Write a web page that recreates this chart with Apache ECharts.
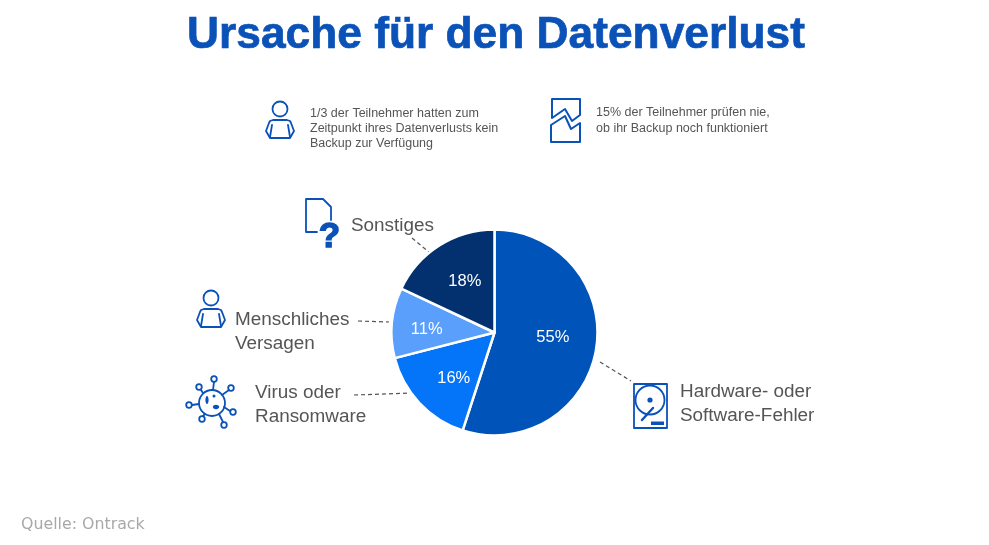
<!DOCTYPE html>
<html>
<head>
    <meta charset="utf-8">
    <title>Ursache für den Datenverlust</title>
    <script src="https://cdn.jsdelivr.net/npm/echarts@6/dist/echarts.min.js"></script>
    <style>
        html, body { margin: 0; padding: 0; background: #fff; }
        #chart { width: 989px; height: 545px; }
    </style>
</head>
<body>
<div id="chart"></div>
<script>
    // data
    var categories = ['Hardware- oder\nSoftware-Fehler', 'Virus oder\nRansomware', 'Menschliches\nVersagen', 'Sonstiges'];
    var values = [55, 16, 11, 18];
    var sliceColors = ['#0053b8', '#0474f8', '#5a9ffc', '#03306f'];
    var titleText = 'Ursache für den Datenverlust';
    var noteLeft = '1/3 der Teilnehmer hatten zum\nZeitpunkt ihres Datenverlusts kein\nBackup zur Verfügung';
    var noteRight = '15% der Teilnehmer prüfen nie,\nob ihr Backup noch funktioniert';
    var sourceText = 'Quelle: Ontrack';

    var FONT = '"Liberation Sans", Arial, sans-serif';
    var BLUE = '#0a52b8';
    var GREY = '#555555';

    var pieData = categories.map(function (name, i) {
        return { name: name, value: values[i], itemStyle: { color: sliceColors[i] } };
    });

    // helpers for the decoration
    function text(x, y, str, size, extra) {
        var style = { x: x, y: y, text: str, fill: GREY, font: size + 'px ' + FONT, verticalAlign: 'middle', lineHeight: size * 1.26 };
        for (var k in extra) style[k] = extra[k];
        return { type: 'text', style: style };
    }
    function dash(x1, y1, x2, y2) {
        return {
            type: 'line',
            shape: { x1: x1, y1: y1, x2: x2, y2: y2 },
            style: { stroke: '#555555', lineWidth: 1.2, lineDash: [4, 3] }
        };
    }
    function stroke(width) {
        return { fill: 'none', stroke: BLUE, lineWidth: width || 1.8, lineJoin: 'round', lineCap: 'round' };
    }
    function poly(points, closed, width) {
        return { type: closed ? 'polygon' : 'polyline', shape: { points: points }, style: stroke(width) };
    }
    function ring(cx, cy, r, width) {
        return { type: 'circle', shape: { cx: cx, cy: cy, r: r }, style: stroke(width) };
    }
    function person(dx, dy) {
        return {
            type: 'group', x: dx, y: dy,
            children: [
                ring(280, 109, 7.5),
                poly([[273, 120], [287, 120], [290, 121], [291, 123], [294, 131], [290, 138], [270, 138], [266, 131], [269, 123], [270, 121]], true),
                poly([[272, 125], [270, 137]]),
                poly([[288, 125], [290, 137]])
            ]
        };
    }

    // spokes and knobs of the virus icon
    var virusKnobs = [[214, 379], [231, 388], [233, 412], [224, 425], [202, 419], [189, 405], [199, 387]];
    var virusSpokes = [
        [[213, 390], [214, 382]], [[222, 395], [229, 390]], [[224, 407], [230, 411]],
        [[219, 414], [223, 422]], [[205, 414], [203, 416]], [[199, 404], [192, 405]], [[203, 393], [201, 390]]
    ];

    // shift of each percent label away from the slice's default spot
    var labelShift = [[4.5, -4], [-1, 9], [-13.5, 2], [-0.5, -5.5]];

    var graphics = [
        text(496, 35.5, titleText, 44.3, { fill: BLUE, font: 'bold 44.3px ' + FONT, align: 'center', stroke: BLUE, lineWidth: 0.7 }),
        text(310, 128.5, noteLeft, 12.5, { lineHeight: 15.3 }),
        text(596, 120.5, noteRight, 12.5, { lineHeight: 15.3 }),
        text(21, 525, sourceText, 15.8, { fill: '#a8a8a8', font: '15.8px "DejaVu Sans", sans-serif' }),
        text(680, 403.5, categories[0], 18.9, { lineHeight: 24 }),
        text(255, 404.5, categories[1], 18.9, { lineHeight: 24 }),
        text(235, 331.5, categories[2], 18.9, { lineHeight: 24 }),
        text(351, 225.5, categories[3], 18.9),
        dash(600, 362, 631, 381),
        dash(354, 395, 413, 393),
        dash(358, 321, 389, 322),
        dash(412, 238, 430, 253),
        person(0, 0),
        person(-69, 189),
        // backup icon, torn in two
        poly([[552, 118], [552, 99], [580, 99], [580, 115], [572, 121], [565, 109], [552, 118]], false, 2),
        poly([[551, 125], [565, 116], [571, 129], [580, 123], [580, 142], [551, 142]], true, 2),
        // document with question mark
        poly([[317, 232], [306, 232], [306, 199], [323, 199], [331, 207], [331, 220]]),
        text(329.5, 237, '?', 35, { fill: BLUE, font: 'bold 35px ' + FONT, align: 'center', stroke: BLUE, lineWidth: 1.4 }),
        // hard disk
        { type: 'rect', shape: { x: 634, y: 384, width: 33, height: 44 }, style: stroke() },
        ring(650, 400, 14.5),
        poly([[642, 420], [653, 408]], false, 2.4),
        { type: 'circle', shape: { cx: 650, cy: 400, r: 2.6 }, style: { fill: BLUE } },
        { type: 'rect', shape: { x: 651, y: 421.5, width: 13, height: 3.5 }, style: { fill: BLUE } },
        // virus
        ring(212, 403, 13),
        { type: 'ellipse', shape: { cx: 207, cy: 400, rx: 1.6, ry: 4 }, style: { fill: BLUE } },
        { type: 'ellipse', shape: { cx: 216, cy: 407, rx: 3.2, ry: 2.2 }, style: { fill: BLUE } },
        { type: 'circle', shape: { cx: 214, cy: 396, r: 1.5 }, style: { fill: BLUE } }
    ];
    virusKnobs.forEach(function (k) { graphics.push(ring(k[0], k[1], 2.8)); });
    virusSpokes.forEach(function (s) { graphics.push(poly(s)); });

    var myChart = echarts.init(document.getElementById('chart'), null, { renderer: 'canvas' });
    myChart.setOption({
        animation: false,
        backgroundColor: '#ffffff',
        graphic: { elements: graphics },
        series: [{
            type: 'pie',
            silent: true,
            center: [494.5, 332.5],
            radius: [0, 103],
            startAngle: 90,
            clockwise: true,
            data: pieData,
            itemStyle: { borderColor: '#ffffff', borderWidth: 2.5 },
            label: {
                show: true,
                position: 'inside',
                formatter: '{c}%',
                color: '#ffffff',
                fontFamily: FONT,
                fontSize: 16.5
            },
            labelLine: { show: false },
            labelLayout: function (params) {
                var s = labelShift[params.dataIndex];
                return { dx: s[0], dy: s[1] };
            }
        }]
    });
    window.addEventListener('resize', function () {
        myChart.resize();
    });
</script>
</body>
</html>
